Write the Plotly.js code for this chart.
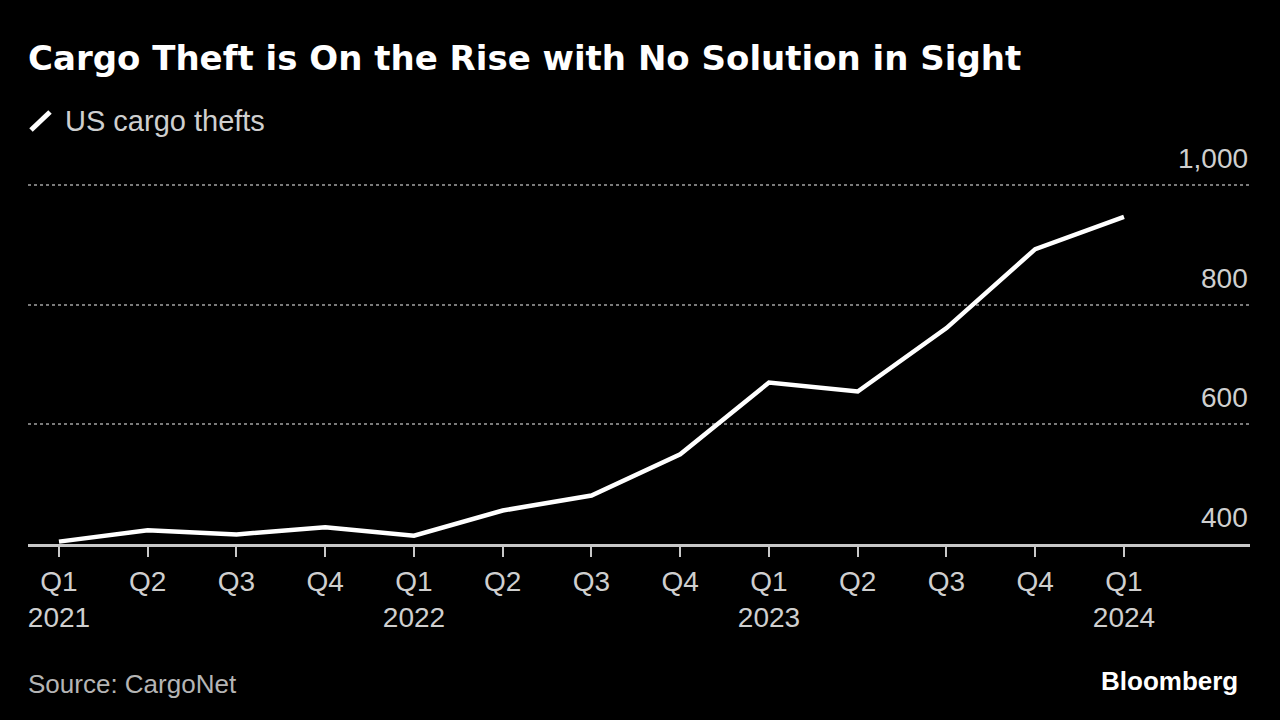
<!DOCTYPE html>
<html>
<head>
<meta charset="utf-8">
<script src="https://cdn.plot.ly/plotly-3.0.1.min.js"></script>
<style>
html,body{margin:0;padding:0;background:#000;}
#chart{width:1280px;height:720px;}
</style>
</head>
<body>
<div id="chart"></div>
<script>
// Data
var quarters = ['Q1 2021','Q2 2021','Q3 2021','Q4 2021','Q1 2022','Q2 2022','Q3 2022','Q4 2022','Q1 2023','Q2 2023','Q3 2023','Q4 2023','Q1 2024'];
var thefts = [404, 423, 416, 428, 414, 456, 481, 550, 670, 655, 761, 893, 947];
var xTickLabels = ['Q1<br>2021','Q2','Q3','Q4','Q1<br>2022','Q2','Q3','Q4','Q1<br>2023','Q2','Q3','Q4','Q1<br>2024'];
var yTickVals = [400, 600, 800, 1000];
var yTickText = ['400', '600', '800', '1,000'];
var seriesName = 'US cargo thefts';

var sans = 'Liberation Sans, Arial, sans-serif';

var trace = {
  x: quarters,
  y: thefts,
  type: 'scatter',
  mode: 'lines',
  name: seriesName,
  line: {color: '#ffffff', width: 4.5},
  showlegend: false,
  hoverinfo: 'skip'
};

// y tick labels placed above their gridlines at the right edge
var yLabelAnns = yTickVals.map(function (v, i) {
  return {
    text: yTickText[i], xref: 'paper', yref: 'y', x: 1, y: v,
    xanchor: 'right', yanchor: 'bottom', yshift: 9, showarrow: false,
    font: {family: sans, size: 28, color: '#cfcfcf'}
  };
});

var layout = {
  width: 1280,
  height: 720,
  paper_bgcolor: '#000000',
  plot_bgcolor: '#000000',
  margin: {l: 28, r: 30, t: 160, b: 176},
  showlegend: false,
  title: {
    text: 'Cargo Theft is On the Rise with No Solution in Sight',
    font: {family: 'DejaVu Sans, sans-serif', size: 34, color: '#ffffff', weight: 'bold'},
    x: 0, xref: 'paper', xanchor: 'left',
    y: 1 - 58 / 720, yref: 'container', yanchor: 'middle'
  },
  xaxis: {
    type: 'category',
    range: [-0.349, 13.42],
    tickmode: 'array',
    tickvals: quarters,
    ticktext: xTickLabels,
    ticks: 'outside',
    ticklen: 10,
    tickwidth: 2,
    tickcolor: '#c8c8c8',
    showline: true,
    linecolor: '#c8c8c8',
    linewidth: 3,
    showgrid: false,
    zeroline: false,
    tickfont: {family: sans, size: 28, color: '#cfcfcf'},
    fixedrange: true
  },
  yaxis: {
    range: [400, 1042],
    side: 'right',
    tickmode: 'array',
    tickvals: yTickVals,
    ticktext: yTickText,
    showticklabels: false,
    ticks: '',
    showgrid: true,
    gridcolor: '#7a7a7a',
    gridwidth: 2,
    griddash: 'dot',
    showline: false,
    zeroline: false,
    fixedrange: true
  },
  shapes: [
    {type: 'line', xref: 'paper', yref: 'paper',
     x0: (31 - 28) / 1222, y0: (720 - 176 - 130) / 384,
     x1: (50 - 28) / 1222, y1: (720 - 176 - 112) / 384,
     line: {color: '#ffffff', width: 5}}
  ],
  annotations: yLabelAnns.concat([
    {text: seriesName, xref: 'paper', yref: 'paper', x: (63 - 28) / 1222, y: (720 - 176 - 121) / 384,
     xanchor: 'left', yanchor: 'middle', showarrow: false,
     font: {family: sans, size: 29, color: '#cfcfcf'}},
    {text: 'Source: CargoNet', xref: 'paper', yref: 'paper', x: 0, y: (720 - 176 - 684) / 384,
     xanchor: 'left', yanchor: 'middle', showarrow: false, xshift: -2,
     font: {family: sans, size: 26, color: '#b5b5b5'}},
    {text: '<b>Bloomberg</b>', xref: 'paper', yref: 'paper', x: (1240 - 28) / 1222, y: (720 - 176 - 681) / 384,
     xanchor: 'right', yanchor: 'middle', showarrow: false,
     font: {family: sans, size: 26, color: '#ffffff'}}
  ])
};

Plotly.newPlot('chart', [trace], layout, {displayModeBar: false, staticPlot: true});
</script>
</body>
</html>
